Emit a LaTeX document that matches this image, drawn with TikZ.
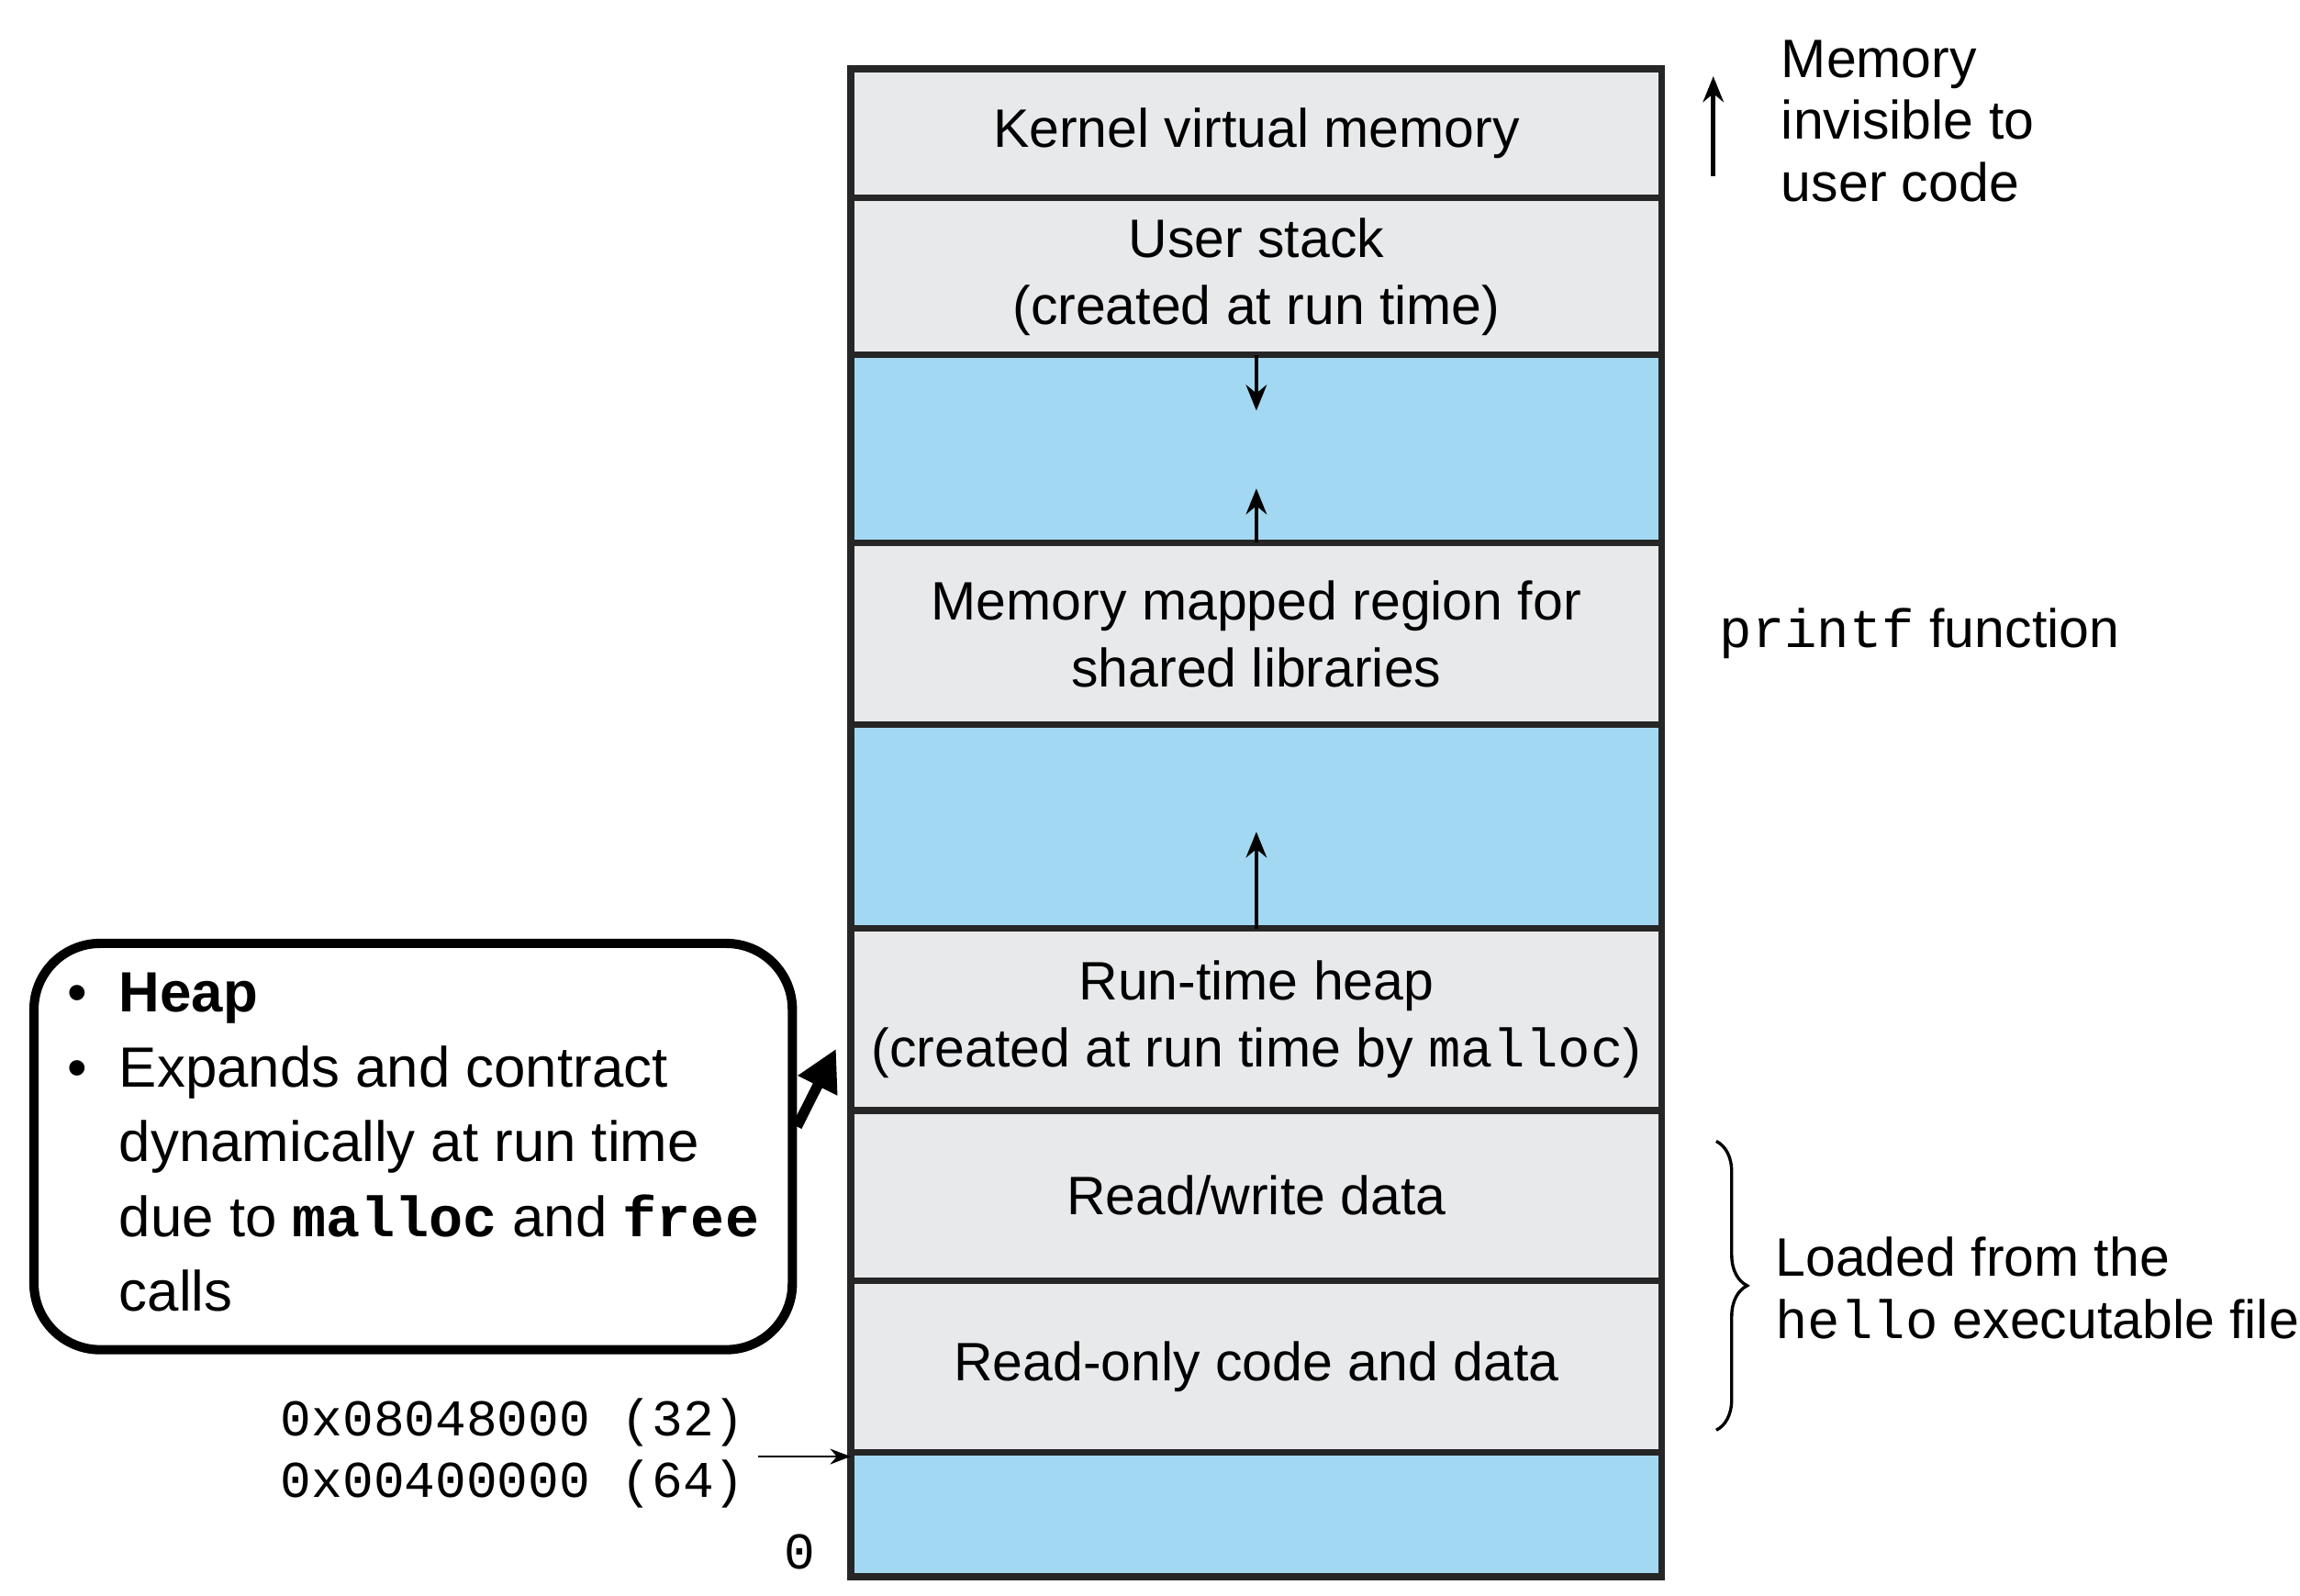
\documentclass[tikz,border=0pt]{standalone}
\usepackage{fontspec}
\setmainfont{Liberation Sans}
\setmonofont{Liberation Mono}
\usetikzlibrary{arrows.meta,decorations.pathreplacing}
\definecolor{regiongray}{HTML}{E8E9EB}
\definecolor{regionblue}{HTML}{A3D8F2}
\tikzset{
  region/.style={draw=black!85, line width=1.3pt, minimum width=5.53cm, outer sep=0pt,
    inner sep=0pt, align=center, font=\fontsize{10.5}{13}\selectfont, fill=regiongray},
  gap/.style={region, fill=regionblue},
  side/.style={align=left, anchor=west, font=\fontsize{10.5}{12}\selectfont},
  addr/.style={anchor=east, font=\ttfamily\fontsize{10}{12}\selectfont, inner sep=1pt},
  growarrow/.style={-{Stealth[length=5pt,width=4pt]}, line width=0.8pt}
}
\begin{document}
\begin{tikzpicture}
\useasboundingbox (0,0) rectangle (15.68,-10.88);
% memory regions
\node[region, minimum height=0.88cm] (kernel) at (8.565,-0.91) {Kernel virtual memory};
\node[region, minimum height=1.07cm] (stack) at (8.565,-1.885) {User stack\\(created at run time)};
\node[gap, minimum height=1.28cm] (gapa) at (8.565,-3.06) {};
\node[region, minimum height=1.24cm] (mmap) at (8.565,-4.32) {Memory mapped region for\\shared libraries};
\node[gap, minimum height=1.39cm] (gapb) at (8.565,-5.635) {};
\node[region, minimum height=1.24cm] (heap) at (8.565,-6.95) {Run-time heap\\(created at run time by \texttt{malloc})};
\node[region, minimum height=1.16cm] (rw) at (8.565,-8.15) {Read/write data};
\node[region, minimum height=1.17cm] (ro) at (8.565,-9.315) {Read-only code and data};
\node[gap, minimum height=0.85cm] (unused) at (8.565,-10.325) {};
% growth arrows
\draw[growarrow] (gapa.north) -- ++(0,-0.38);
\draw[growarrow] (gapa.south) -- ++(0,0.37);
\draw[growarrow] (gapb.south) -- ++(0,0.66);
% right side labels
\coordinate (inv) at (11.68,-1.2);
\draw[growarrow] (inv) -- ++(0,0.68);
\node[side, anchor=north west] (invtext) at (12.02,-0.15) {Memory\\invisible to\\user code};
\node[side] (printf) at (11.6,-4.32) {\texttt{printf} function};
\coordinate (bra) at (11.7,-7.78);
\coordinate (brb) at (11.7,-9.75);
\draw[line width=0.6pt, decorate, decoration={brace, amplitude=6pt}] (bra) -- (brb);
\node[side] (loaded) at (11.98,-8.78) {Loaded from the\\\texttt{hello} executable file};
% left side addresses
\node[addr] (a32) at (5.12,-9.7) {0x08048000 (32)};
\node[addr] (a64) at (5.12,-10.12) {0x00400000 (64)};
\node[addr] (zero) at (5.6,-10.58) {0};
\coordinate (addrtip) at (5.17,-9.93);
\draw[-{Stealth[length=4pt,width=3pt]}, line width=0.5pt] (addrtip) -- (addrtip -| unused.west);
% heap callout
\node[draw, line width=1.8pt, rounded corners=0.45cm, minimum width=5.17cm, minimum height=2.77cm,
  anchor=north west, inner sep=0pt, font=\fontsize{11}{14.5}\selectfont] (callout) at (0.2,-6.4)
  {\begin{tabular}{@{}l@{\hspace{0.22cm}}l@{}}
   \textbullet & \textbf{Heap}\\
   \textbullet & Expands and contract\\
   & dynamically at run time\\
   & due to \texttt{\textbf{malloc}} and \texttt{\textbf{free}}\\
   & calls
   \end{tabular}};
\coordinate (calltip) at (5.7,-7.15);
\draw[-{Triangle[length=8pt,width=8pt]}, line width=2pt] (callout.east |- 0,-7.68) -- (calltip);
\end{tikzpicture}
\end{document}
